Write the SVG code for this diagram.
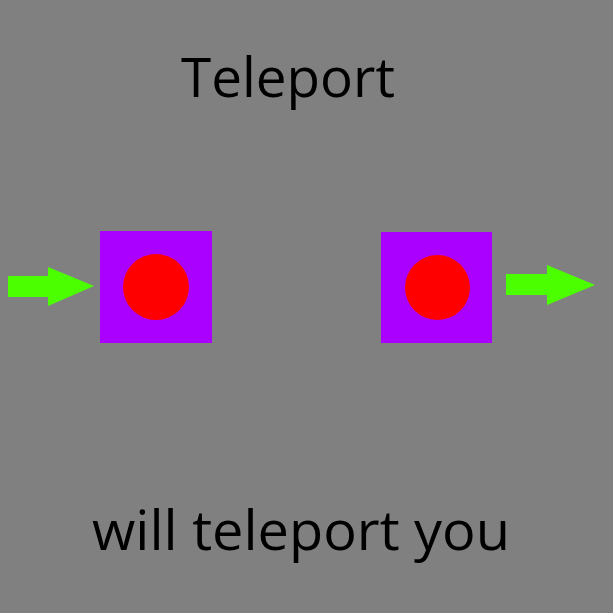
<svg xmlns="http://www.w3.org/2000/svg" width="613" height="613" viewBox="0 0 613 613">
<style>
.t{font-family:"Open Sans","Noto Sans","DejaVu Sans",sans-serif;fill:#000}
.box{fill:#aa00ff}
.dot{fill:#ff0000}
.arr{fill:#4cff00}
</style>
<rect width="613" height="613" fill="#808080"/>
<text class="t" x="288" y="97" font-size="54" text-anchor="middle" textLength="214" lengthAdjust="spacingAndGlyphs">Teleport</text>
<g id="portal-in">
<rect class="box" x="100" y="231" width="112" height="112"/>
<circle class="dot" cx="156" cy="287" r="33"/>
</g>
<g id="portal-out">
<rect class="box" x="381" y="232" width="111" height="111"/>
<circle class="dot" cx="437.5" cy="287.5" r="32.5"/>
</g>
<g id="connectors">
<polygon class="arr" points="8,276 48,276 48,267 94,286 48,306 48,297 8,297"/>
<polygon class="arr" points="506,274 547,274 547,265 595,285 547,305 547,295 506,295"/>
</g>
<text class="t" x="301" y="550" font-size="54" text-anchor="middle" textLength="418" lengthAdjust="spacingAndGlyphs">will teleport you</text>
</svg>
